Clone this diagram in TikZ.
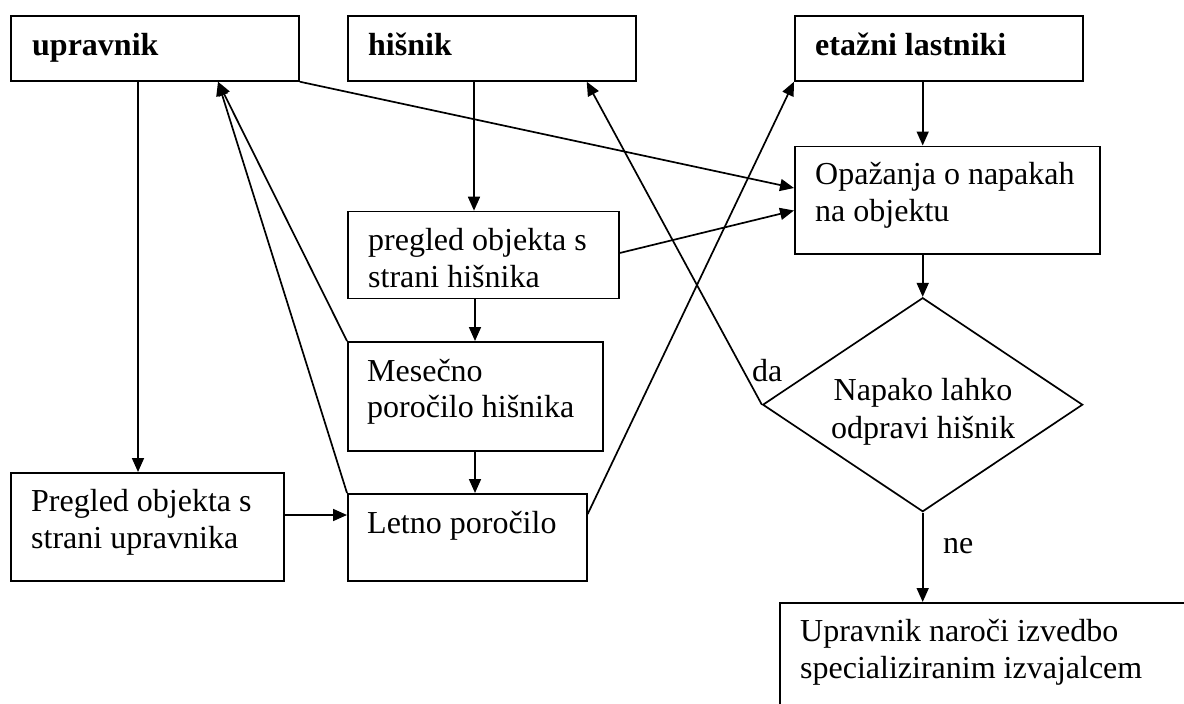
\documentclass[tikz,border=0pt]{standalone}
\usepackage{fontspec}
\setmainfont{Liberation Serif}
\usetikzlibrary{arrows.meta,shapes.geometric}

\tikzset{
  box/.style={draw, line width=1.7pt, rectangle, inner sep=0pt, anchor=north west},
  decbox/.style={draw, line width=1.7pt, diamond, inner sep=0pt},
  txt/.style={inner sep=0pt, anchor=base west, font=\fontsize{32}{36.8}\selectfont},
  ctxt/.style={inner sep=0pt, anchor=base, font=\fontsize{32}{36.8}\selectfont},
  head/.style={txt, font=\fontsize{32}{36.8}\selectfont\bfseries},
  arr/.style={line width=1.7pt, -{Triangle[length=14pt,width=12pt]}},
  ln/.style={line width=1.7pt}
}

\begin{document}
\begin{tikzpicture}[x=1pt,y=-1pt]
  % page area
  \fill[white] (0,0) rectangle (1184,704);
  \useasboundingbox (0,0) rectangle (1184,704);

  % top row: actors
  \node[box, minimum width=288pt, minimum height=65pt] (upr) at (10,15) {};
  \node[box, minimum width=288pt, minimum height=65pt] (his) at (347,15) {};
  \node[box, minimum width=288pt, minimum height=65pt] (eta) at (794,15) {};
  \node[head] (tupr) at (32,55) {upravnik};
  \node[head] (this) at (368,55) {hišnik};
  \node[head] (teta) at (815,55) {etažni lastniki};

  % process boxes
  \node[box, minimum width=305pt, minimum height=107.5pt] (opa) at (794,145.5) {};
  \node[txt] (topa1) at (815,184) {Opažanja o napakah};
  \node[txt] (topa2) at (815,221) {na objektu};

  \node[box, minimum width=271pt, minimum height=87pt] (preh) at (347,210.7) {};
  \node[txt] (tpreh1) at (368,250) {pregled objekta s};
  \node[txt] (tpreh2) at (368,287) {strani hišnika};

  \node[box, minimum width=255pt, minimum height=109pt] (mes) at (347,341) {};
  \node[txt] (tmes1) at (367,381) {Mesečno};
  \node[txt] (tmes2) at (367,417.5) {poročilo hišnika};

  \node[box, minimum width=239pt, minimum height=87pt] (let) at (347,493) {};
  \node[txt] (tlet) at (367,533) {Letno poročilo};

  \node[box, minimum width=273pt, minimum height=108pt] (preu) at (10,472) {};
  \node[txt] (tpreu1) at (31,511) {Pregled objekta s};
  \node[txt] (tpreu2) at (31,548) {strani upravnika};

  % decision
  \node[decbox, minimum width=320pt, minimum height=214pt] (dec) at (922.7,404.7) {};
  \node[ctxt] (tdec1) at (923,400) {Napako lahko};
  \node[ctxt] (tdec2) at (923,438) {odpravi hišnik};

  % contractor box, running off the page edge
  \begin{scope}
    \clip (0,0) rectangle (1184,704);
    \node[box, minimum width=440pt, minimum height=140pt] (izv) at (779,602) {};
  \end{scope}
  \node[txt] (tizv1) at (800,641) {Upravnik naroči izvedbo};
  \node[txt] (tizv2) at (800,678) {specializiranim izvajalcem};

  % connectors
  \draw[arr] ([xshift=128pt]upr.south west) -- ([xshift=128pt]preu.north west);
  \draw[arr] (upr.south east) -- ([yshift=-42.5pt]opa.north west);
  \draw[arr] ([xshift=127pt]his.south west) -- ([xshift=127pt]preh.north west);
  \draw[arr] ([yshift=-42.3pt]preh.north east) -- ([yshift=-65pt]opa.north west);
  \draw[arr] ([xshift=128pt]preh.south west) -- ([xshift=128pt]mes.north west);
  \draw[arr] ([xshift=128pt]mes.south west) -- ([xshift=128pt]let.north west);
  \draw[arr] (mes.north west) -- ([xshift=208pt]upr.south west);
  \draw[arr] (let.north west) -- ([xshift=208pt]upr.south west);
  \draw[arr] ([yshift=-21pt]let.north east) -- (eta.south west);
  \draw[arr] ([yshift=-43pt]preu.north east) -- ([yshift=-22pt]let.north west);
  \draw[arr] ([xshift=128.7pt]eta.south west) -- ([xshift=128.7pt]opa.north west);
  \draw[arr] (opa.south -| dec.north) -- (dec.north);
  \draw[arr] (dec.west) -- ([xshift=239.7pt]his.south west);
  \draw[arr] (dec.south) -- (dec.south |- izv.north);

  % branch labels
  \node[txt] (lda) at (752,381) {da};
  \node[txt] (lne) at (943,553) {ne};
\end{tikzpicture}
\end{document}
